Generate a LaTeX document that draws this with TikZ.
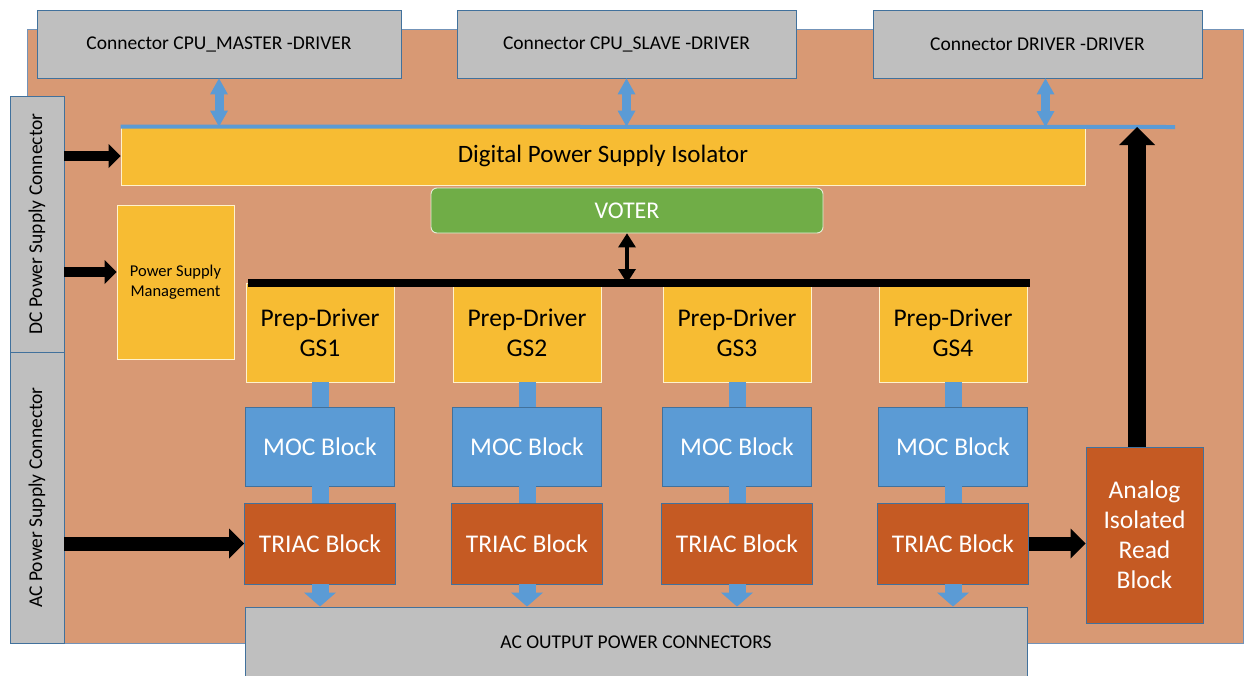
\documentclass[tikz,border=0pt]{standalone}
\usepackage{fontspec}
\setmainfont{Carlito}
\usetikzlibrary{arrows.meta}

\definecolor{boardOrange}{HTML}{D89974}
\definecolor{boardEdge}{HTML}{7393B8}
\definecolor{blockYellow}{HTML}{F7BC33}
\definecolor{mocBlue}{HTML}{5B9BD5}
\definecolor{triacRed}{HTML}{C55A23}
\definecolor{voterGreen}{HTML}{70AD47}
\definecolor{voterEdge}{HTML}{E2F0D9}
\definecolor{connGray}{HTML}{BFBFBF}
\definecolor{edgeBlue}{HTML}{41719C}
\definecolor{edgeCream}{HTML}{FFF2CC}

\begin{document}
\begin{tikzpicture}[x=1pt,y=-1pt,
  blk/.style={rectangle, draw, line width=0.9pt, inner sep=0pt, align=center},
  connbox/.style={blk, fill=connGray, draw=edgeBlue, text=black,
    font=\fontsize{19.5}{23.4}\selectfont},
  yellowblk/.style={blk, fill=blockYellow, draw=edgeCream, text=black},
  prepblk/.style={yellowblk, minimum width=148pt, minimum height=99pt,
    font=\fontsize{25.5}{30}\selectfont},
  mocblk/.style={blk, fill=mocBlue, draw=edgeBlue, text=white,
    minimum width=149pt, minimum height=79pt, font=\fontsize{25.5}{30}\selectfont},
  triacblk/.style={blk, fill=triacRed, draw=edgeBlue, text=white,
    minimum width=151pt, minimum height=81pt, font=\fontsize{25.5}{30}\selectfont},
  dcarrow/.style={black, line width=10pt,
    -{Triangle[width=24pt,length=12pt,line width=0pt]}},
  acarrow/.style={black, line width=14pt,
    -{Triangle[width=30pt,length=15pt,line width=0pt]}},
  readarrow/.style={black, line width=18pt,
    -{Triangle[width=36pt,length=18pt,line width=0pt]}},
  linkarrow/.style={mocBlue, line width=9pt,
    {Triangle[width=18pt,length=16pt,line width=0pt]}-{Triangle[width=18pt,length=16pt,line width=0pt]}},
  voterarrow/.style={black, line width=4pt,
    {Triangle[width=18pt,length=14pt,line width=0pt]}-{Triangle[width=18pt,length=14pt,line width=0pt]}},
  feedlink/.style={mocBlue, line width=17pt},
  outarrow/.style={mocBlue, line width=17pt,
    -{Triangle[width=32pt,length=14pt,line width=0pt]}}
]
\useasboundingbox (0,0) rectangle (1244,675);

% driver board
\node[rectangle, draw=boardEdge, fill=boardOrange, line width=0.8pt, inner sep=0pt,
      minimum width=1216pt, minimum height=614pt] (board) at (635,336) {};

% external connectors
\node[connbox, minimum width=364pt, minimum height=68pt] (cpuM) at (219,44)
  {Connector CPU\_MASTER -DRIVER};
\node[connbox, minimum width=339pt, minimum height=68pt] (cpuS) at (626.5,44)
  {Connector CPU\_SLAVE -DRIVER};
\node[connbox, minimum width=329pt, minimum height=68pt] (drvC) at (1037.5,44)
  {Connector DRIVER -DRIVER};
\node[connbox, rotate=90, minimum width=256pt, minimum height=54pt] (dcC) at (37,224)
  {DC Power Supply Connector};
\node[connbox, rotate=90, minimum width=291pt, minimum height=54pt] (acC) at (37,497.5)
  {AC Power Supply Connector};
\node[connbox, minimum width=782pt, minimum height=71pt] (acOut) at (636,642.5)
  {AC OUTPUT POWER CONNECTORS};

% isolation, supply and voting
\node[yellowblk, minimum width=964pt, minimum height=58pt,
      font=\fontsize{25}{30}\selectfont] (iso) at (603,156)
  {Digital Power Supply Isolator};
\node[yellowblk, minimum width=117pt, minimum height=154pt,
      font=\fontsize{16.5}{19.5}\selectfont] (psm) at (175.5,282)
  {Power Supply\\Management};
\node[blk, rounded corners=6pt, fill=voterGreen, draw=voterEdge, text=white,
      minimum width=392pt, minimum height=45pt,
      font=\fontsize{24}{28}\selectfont] (voter) at (627,210.5) {VOTER};

% gate-signal channels
\foreach \i/\cx in {1/320,2/527,3/737,4/953}{
  \node[prepblk] (pr\i) at (\cx,332.5) {Prep-Driver\\GS\i};
  \node[mocblk] (moc\i) at (\cx,446.5) {MOC Block};
  \node[triacblk] (tr\i) at (\cx,543.5) {TRIAC Block};
}

\node[blk, fill=triacRed, draw=edgeBlue, text=white, minimum width=117pt,
      minimum height=176pt, font=\fontsize{25.5}{30}\selectfont] (analog)
      at (1144.5,535) {Analog\\Isolated\\Read\\Block};

% bus points
\coordinate (busL) at (248,283);
\coordinate (busR) at (1030,283);
\coordinate (isoBusEnd) at (1175,127);
\coordinate (readTap) at (1137,127);
\coordinate (psmIn) at ([yshift=10pt]psm.west);

% isolated digital bus
\draw[mocBlue, line width=4pt] (iso.north west) -- (isoBusEnd);
\draw[linkarrow] (cpuM.south) -- (cpuM.south |- iso.north);
\draw[linkarrow] (cpuS.south) -- (cpuS.south |- iso.north);
\draw[linkarrow] ([xshift=8pt]drvC.south) -- ([xshift=8pt]drvC.south |- isoBusEnd);

% power inputs
\draw[dcarrow] (dcC.south |- iso.west) -- (iso.west);
\draw[dcarrow] (dcC.south |- psmIn) -- (psmIn);
\draw[acarrow] (acC.south |- tr1.west) -- (tr1.west);

% voter bus
\draw[black, line width=8pt] (busL) -- (busR);
\draw[voterarrow] (voter.south) -- (voter.south |- busL);

% channel chains
\foreach \i in {1,2,3,4}{
  \draw[feedlink] (pr\i.south) -- (moc\i.north);
  \draw[feedlink] (moc\i.south) -- (tr\i.north);
  \draw[outarrow] (tr\i.south) -- (tr\i.south |- acOut.north);
}

% analog read-back
\draw[acarrow] (tr4.east) -- (analog.west |- tr4.east);
\draw[readarrow] (readTap |- analog.north) -- (readTap);
\end{tikzpicture}
\end{document}
